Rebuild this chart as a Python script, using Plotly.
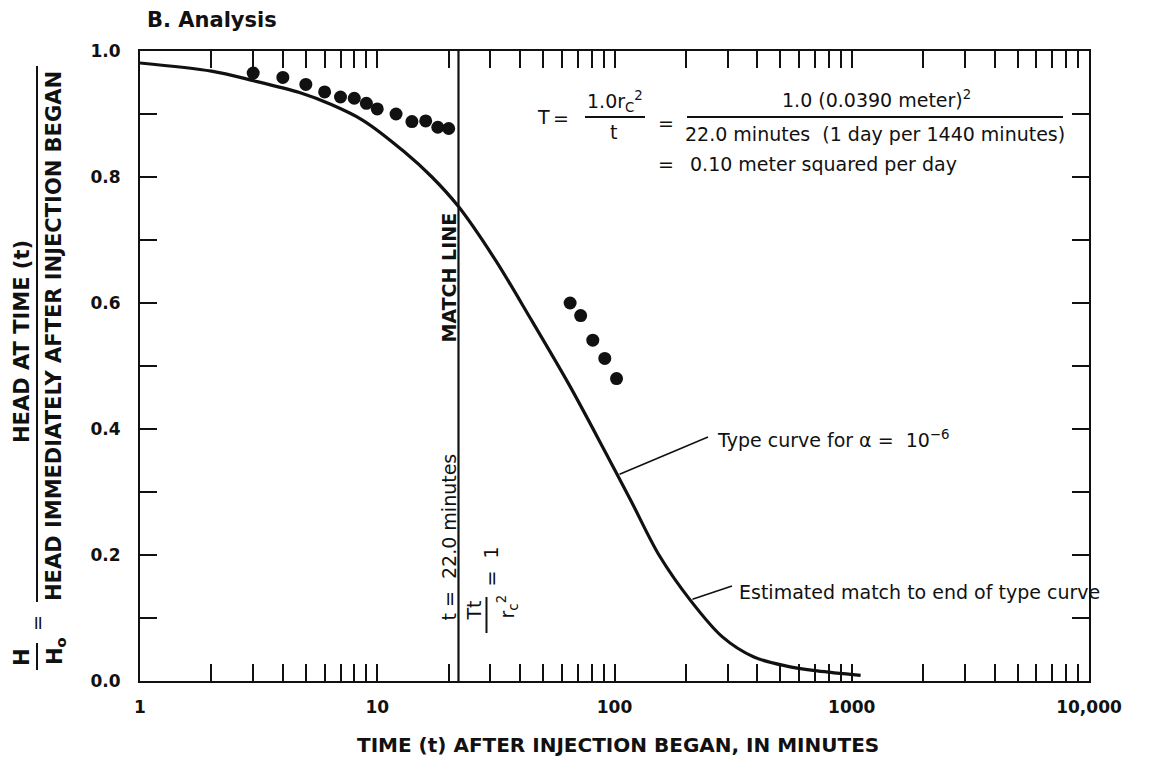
import math
import plotly.graph_objects as go

# ---------------- data ----------------
obs_t = [3, 4, 5, 6, 7, 8, 9, 10, 12, 14, 16, 18, 20, 65, 72, 81, 91, 102]
obs_h = [0.965, 0.958, 0.947, 0.935, 0.927, 0.925, 0.917, 0.908, 0.900, 0.888,
         0.889, 0.879, 0.877, 0.600, 0.580, 0.541, 0.512, 0.480]

curve_t = [1, 2, 3, 4.7, 6.4, 8.7, 13, 17, 22, 31.5, 44, 64, 89, 117, 154,
           209, 285, 387, 526, 715, 1090]
curve_h = [0.981, 0.968, 0.953, 0.934, 0.915, 0.890, 0.840, 0.800, 0.753, 0.668,
           0.577, 0.472, 0.372, 0.287, 0.200, 0.128, 0.070, 0.038, 0.024,
           0.016, 0.009]

match_t = 22.0

x_major = [1, 10, 100, 1000, 10000]
x_major_labels = ["1", "10", "100", "1000", "10,000"]
x_minor = [2, 3, 4, 5, 6, 7, 8, 9,
           20, 30, 40, 50, 60, 70, 80, 90,
           200, 300, 400, 500, 600, 700, 800, 900,
           2000, 3000, 4000, 5000, 6000, 7000, 8000, 9000]
y_major = [0.0, 0.2, 0.4, 0.6, 0.8, 1.0]
y_major_labels = ["0.0", "0.2", "0.4", "0.6", "0.8", "1.0"]
y_minor = [0.1, 0.3, 0.5, 0.7, 0.9]

# ---------------- layout geometry ----------------
W, H = 1173, 761
PL, PR, PT, PB = 140, 1089, 51, 681
XMIN, XMAX = 0.0, 4.0


def px(x):
    return (x - PL) / (PR - PL)


def py(y):
    return (PB - y) / (PB - PT)


def tx(t):
    return PL + (PR - PL) * (math.log10(t) - XMIN) / (XMAX - XMIN)


def hy(h):
    return PB - (PB - PT) * h


FONT = "DejaVu Sans"
INK = "#111111"

fig = go.Figure()

fig.add_trace(go.Scatter(
    x=curve_t, y=curve_h, mode="lines",
    line=dict(color=INK, width=3.2, shape="spline", smoothing=0.9),
    hoverinfo="skip", showlegend=False))

fig.add_trace(go.Scatter(
    x=[match_t, match_t], y=[0, 1], mode="lines",
    line=dict(color=INK, width=2.2), hoverinfo="skip", showlegend=False))

fig.add_trace(go.Scatter(
    x=obs_t, y=obs_h, mode="markers",
    marker=dict(color=INK, size=13, line=dict(width=0)),
    showlegend=False))

annotations = []


def txt(x, y, text, size=19, bold=False, angle=0, xanchor="center", yanchor="middle"):
    annotations.append(dict(
        x=px(x), y=py(y), xref="paper", yref="paper", text=text, showarrow=False,
        textangle=angle, xanchor=xanchor, yanchor=yanchor,
        font=dict(family=FONT, size=size, color=INK,
                  weight="bold" if bold else "normal")))


shapes = []


def seg(x0, y0, x1, y1, w=1.6):
    shapes.append(dict(type="line", xref="paper", yref="paper",
                       x0=px(x0), y0=py(y0), x1=px(x1), y1=py(y1),
                       line=dict(color=INK, width=w)))


# y-axis title (fraction)
txt(22, 342, "HEAD AT TIME (t)", size=21, bold=True, angle=-90)
txt(54, 336, "HEAD IMMEDIATELY AFTER INJECTION BEGAN", size=21, bold=True, angle=-90)
seg(37, 66, 37, 602, 2)
txt(37, 623, "=", size=19, angle=-90)
txt(22, 657, "H", size=21, bold=True, angle=-90)
txt(56, 651, "H<sub>o</sub>", size=21, bold=True, angle=-90)
seg(37, 643, 37, 670, 2)

# x-axis title
txt(618, 745, "TIME (t) AFTER INJECTION BEGAN, IN MINUTES", size=20, bold=True)

# match line labels (positioned relative to the match line)
LX = tx(match_t)
txt(LX - 9, 277, "MATCH LINE", size=19, bold=True, angle=-90)
txt(LX - 9, 537, "t =  22.0 minutes", size=19, angle=-90)
txt(LX + 16, 610, "Tt", size=19, angle=-90)
seg(LX + 28, 597, LX + 28, 633, 2)
txt(LX + 49, 606, "r<sub>c</sub><sup>2</sup>", size=19, angle=-90)
txt(LX + 33, 566, "=  1", size=19, angle=-90)

# equation
txt(543, 117, "T", size=19)
txt(561, 118, "=", size=19)
txt(615, 101, "1.0r<sub>C</sub><sup>2</sup>", size=19)
seg(585, 117, 645, 117, 2)
txt(613, 132, "t", size=19)
txt(666, 123, "=", size=19)
txt(876, 99, "1.0 (0.0390 meter)<sup>2</sup>", size=19)
seg(687, 117, 1063, 117, 2)
txt(875, 134, "22.0 minutes  (1 day per 1440 minutes)", size=19)
txt(666, 164, "=", size=19)
txt(688, 164, "0.10 meter squared per day", size=19, xanchor="left")

# curve labels with leaders touching the drawn curve
lead1_t, lead1_h = 103, 0.328
seg(tx(lead1_t) + 2, hy(lead1_h), 708, 437, 1.6)
txt(715, 439, "Type curve for \u03b1 =  10<sup>\u22126</sup>", size=19, xanchor="left")
lead2_t, lead2_h = 209, 0.128
seg(tx(lead2_t) + 2, hy(lead2_h) - 1, 732, 586, 1.6)
txt(737, 592, "Estimated match to end of type curve", size=19, xanchor="left")

fig.update_layout(
    width=W, height=H,
    margin=dict(l=PL, r=W - PR, t=PT, b=H - PB, autoexpand=False),
    paper_bgcolor="white", plot_bgcolor="white",
    title=dict(text="<b>B. Analysis</b>", x=px(147), xref="paper", xanchor="left",
               y=1 - 20 / H, yref="container", yanchor="middle",
               font=dict(family=FONT, size=21, color=INK)),
    annotations=annotations, shapes=shapes,
)

tick_style = dict(ticks="inside", ticklen=17, tickwidth=2, tickcolor=INK)

fig.update_xaxes(
    type="log", range=[XMIN, XMAX], showgrid=False, zeroline=False,
    showline=True, linecolor=INK, linewidth=2, mirror="ticks",
    tickmode="array", tickvals=x_major, ticktext=x_major_labels,
    ticklabelstandoff=10,
    minor=dict(tickmode="array", tickvals=x_minor, showgrid=False, **tick_style),
    tickfont=dict(family=FONT, size=17, color=INK, weight="bold"),
    **tick_style)

fig.update_yaxes(
    range=[0, 1], showgrid=False, zeroline=False,
    showline=True, linecolor=INK, linewidth=2, mirror="ticks",
    tickmode="array", tickvals=y_major, ticktext=y_major_labels,
    ticklabelstandoff=14,
    minor=dict(tickmode="array", tickvals=y_minor, showgrid=False, **tick_style),
    tickfont=dict(family=FONT, size=17, color=INK, weight="bold"),
    **tick_style)

fig.write_html("out.html")
